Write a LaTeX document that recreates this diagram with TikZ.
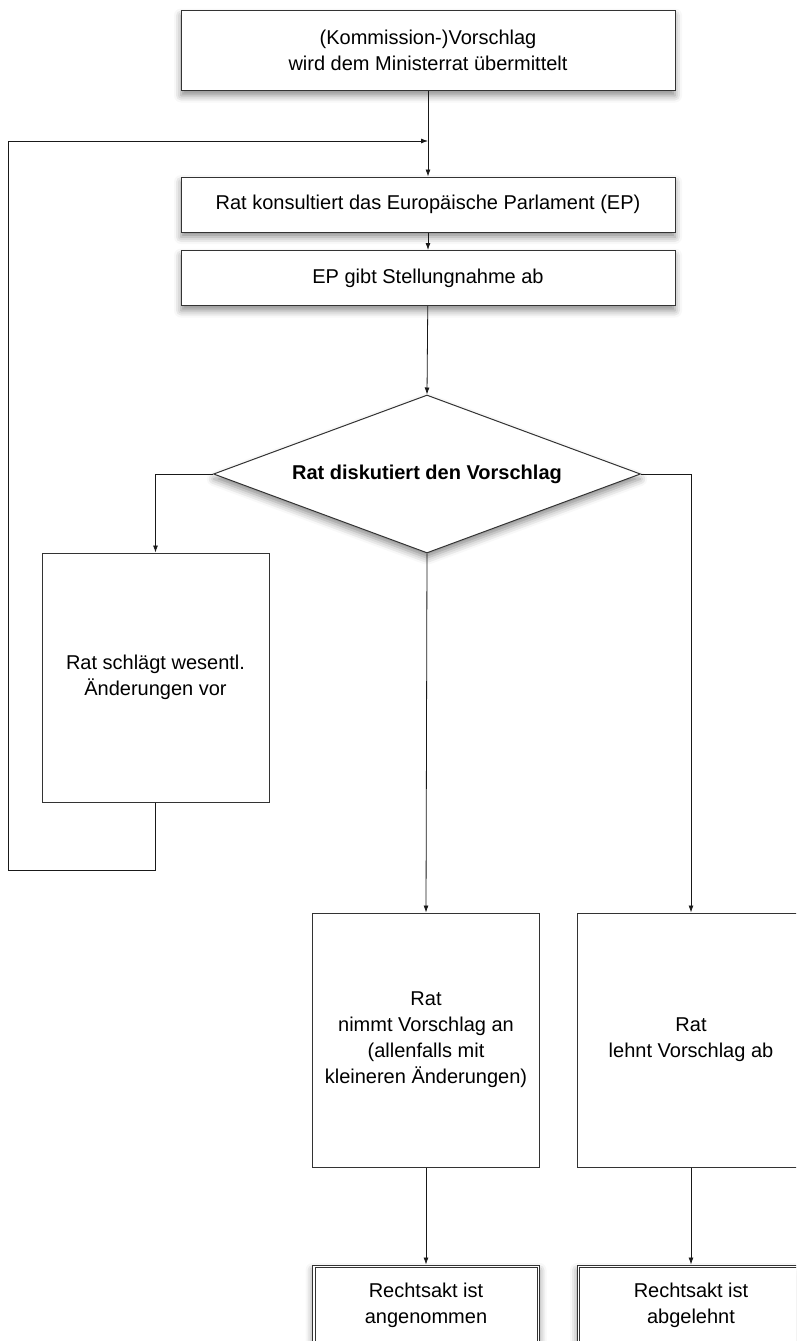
\documentclass[tikz,border=0pt]{standalone}
\usepackage{fontspec}
\setmainfont{Liberation Sans}
\usepackage{tikz}
\usetikzlibrary{shapes.geometric, shadows.blur, arrows.meta}

\begin{document}
\begin{tikzpicture}[x=1pt, y=1pt]
    % Setup the styles for the boxes
        \tikzset{box style/.style={rectangle,
                                   draw=black!80,
                                   line width=1pt,
                                   fill=white,
                                   inner sep=0pt,
                                   align=center,
                                   font=\fontsize{20}{26}\selectfont},
                 shade style/.style={blur shadow={shadow xshift=0pt,
                                                  shadow yshift=-5pt,
                                                  shadow blur radius=7pt,
                                                  shadow opacity=45}},
                 link style/.style={->, >={Latex[length=7pt,width=5pt]},
                                    draw=black!90, line width=0.8pt}}
        \useasboundingbox (0,0) rectangle (796,-1341);
        \clip (0,0) rectangle (796,-1341);
        % Draw the steps
        \node[box style, shade style, minimum width=494, minimum height=80]
            at (428,-50.5) (vorschlag) {(Kommission-)Vorschlag\\wird dem Ministerrat übermittelt};
        \node[box style, shade style, minimum width=494, minimum height=55]
            at (428,-204.5) (konsult) {Rat konsultiert das Europäische Parlament (EP)};
        \node[box style, shade style, minimum width=494, minimum height=55]
            at (428,-278) (stellung) {EP gibt Stellungnahme ab};
        \node[box style, shade style, diamond, aspect=2.7,
              minimum width=427, minimum height=158, font=\fontsize{20}{26}\selectfont\bfseries]
            at (427,-474) (diskut) {Rat diskutiert den Vorschlag};
        \node[box style, minimum width=227, minimum height=249]
            at (155.5,-677.5) (aenderung) {Rat schlägt wesentl.\\Änderungen vor};
        \node[box style, minimum width=227, minimum height=254]
            at (426,-1040) (annahme) {Rat\\nimmt Vorschlag an\\(allenfalls mit\\kleineren Änderungen)};
        \node[box style, minimum width=228, minimum height=254]
            at (691,-1040) (ablehn) {Rat\\lehnt Vorschlag ab};
        \node[box style, shade style, minimum width=227, minimum height=80]
            at (426,-1305) (angenommen) {Rechtsakt ist\\angenommen};
        \node[box style, shade style, minimum width=228, minimum height=80]
            at (691,-1305) (abgelehnt) {Rechtsakt ist\\abgelehnt};
        % inner frames of the end boxes
        \foreach \ende in {angenommen, abgelehnt}
            \draw[draw=black!80, line width=0.7pt]
                ([shift={(3,-3)}]\ende.north west) rectangle ([shift={(-3,3)}]\ende.south east);
        \coordinate (ruecklauf) at (8,-870);
        \coordinate (einmuendung) at (428,-141);
        % Connect the steps with arrows
        \draw[link style] (vorschlag) -- (konsult);
        \draw[link style] (konsult) -- (stellung);
        \draw[link style] (stellung) -- (diskut.north);
        \draw[link style] (diskut.west) -| (aenderung.north);
        \draw[link style] (diskut.south) -- (annahme.north);
        \draw[link style] (diskut.east) -| (ablehn.north);
        \draw[link style] (annahme) -- (angenommen);
        \draw[link style] (ablehn) -- (abgelehnt);
        \draw[link style] (aenderung.south) |- (ruecklauf) |- (einmuendung);
\end{tikzpicture}
\end{document}
